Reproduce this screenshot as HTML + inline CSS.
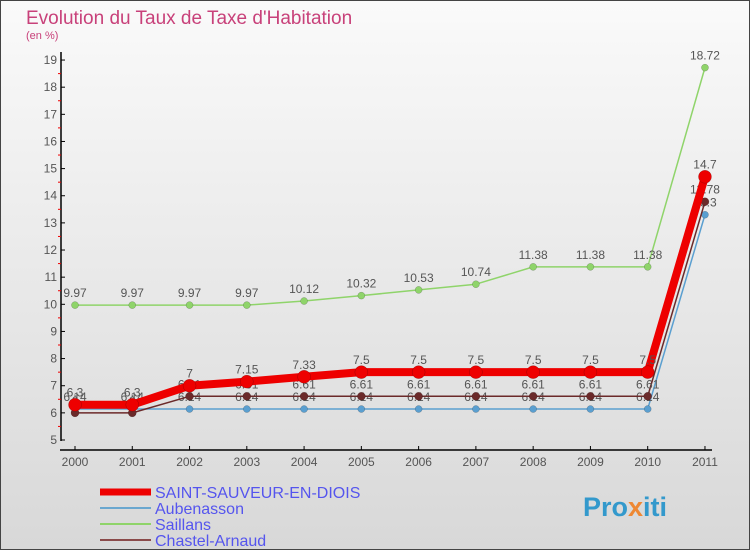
<!DOCTYPE html>
<html><head><meta charset="utf-8"><style>
body{margin:0}
#c{width:750px;height:550px;position:relative;font-family:"Liberation Sans","DejaVu Sans",sans-serif;}
</style></head><body>
<div id="c">
<svg id="s" width="750" height="550" xmlns="http://www.w3.org/2000/svg">
<defs><linearGradient id="bg" x1="0" y1="0" x2="0" y2="1"><stop offset="0" stop-color="#fafafa"/><stop offset="1" stop-color="#d8d8d8"/></linearGradient></defs>
<rect x="0.5" y="0.5" width="749" height="549" fill="url(#bg)" stroke="#444"/>
<text x="26" y="24" font-size="19" fill="#c8417a">Evolution du Taux de Taxe d'Habitation</text>
<text x="26" y="39" font-size="11" fill="#c8417a">(en %)</text>
<g id="axes"></g><g id="series"></g>
<text x="583" y="516" font-size="27" font-weight="bold" fill="#3399cc">Pro<tspan fill="#ee8833">x</tspan>iti</text>
</svg></div>
<script>
const years=[2000,2001,2002,2003,2004,2005,2006,2007,2008,2009,2010,2011];
const saint=[6.3,6.3,7,7.15,7.33,7.5,7.5,7.5,7.5,7.5,7.5,14.7];
const aub=[6.14,6.14,6.14,6.14,6.14,6.14,6.14,6.14,6.14,6.14,6.14,13.3];
const sail=[9.97,9.97,9.97,9.97,10.12,10.32,10.53,10.74,11.38,11.38,11.38,18.72];
const chas=[6,6,6.61,6.61,6.61,6.61,6.61,6.61,6.61,6.61,6.61,13.78];
const yTicks=[5,6,7,8,9,10,11,12,13,14,15,16,17,18,19];
const NS="http://www.w3.org/2000/svg";
const X=i=>75+i*57.27, Y=v=>440-(v-5)*27.14;
function mk(t,a,p){const e=document.createElementNS(NS,t);for(const k in a)e.setAttribute(k,a[k]);p.appendChild(e);return e;}
const ax=document.getElementById('axes'), sg=document.getElementById('series');
let l=mk('line',{x1:61,y1:52,x2:61,y2:441,stroke:'#000','stroke-width':1.5},ax);


l=mk('line',{x1:60,y1:450,x2:712,y2:450,stroke:'#000','stroke-width':1.5},ax);


yTicks.forEach(v=>{mk('line',{x1:61,y1:Y(v),x2:65,y2:Y(v),stroke:'#000'},ax);
 if(v<19)mk('line',{x1:58,y1:Y(v+0.5),x2:61,y2:Y(v+0.5),stroke:'#e00'},ax);
 const t=mk('text',{x:57,y:Y(v)+4,'font-size':12,fill:'#555','text-anchor':'end'},ax);t.textContent=v;
 
 });
years.forEach((y,i)=>{mk('line',{x1:X(i),y1:446,x2:X(i),y2:450,stroke:'#000'},ax);
 const t=mk('text',{x:X(i),y:466,'font-size':12,fill:'#555','text-anchor':'middle'},ax);t.textContent=y;
 
 });
function series(d,col,w,r,name,lab){
 const g=mk('g',{},sg);
 
 
 mk('polyline',{points:d.map((v,i)=>X(i)+','+Y(v)).join(' '),fill:'none',stroke:col,'stroke-width':w,'stroke-linejoin':'round'},g);
 d.forEach((v,i)=>{const c=mk('circle',{cx:X(i),cy:Y(v),r:r,fill:col,stroke:'rgba(0,0,0,0.3)','stroke-width':0.5},g);
  
  
  if(lab){const t=mk('text',{x:X(i),y:Y(v)-8,'font-size':12,fill:'#555','text-anchor':'middle'},g);t.textContent=v;}});
}
series(sail,'#8fd46a',1.5,3.5,'saillans-series',true);
series(aub,'#5a9fd0',1.5,3.5,'aubenasson-series',true);
series(chas,'#6b2a2a',1.5,4,'chastel-arnaud-series',true);
series(saint,'#ee0000',8,6.5,'saint-sauveur-series',true);
const leg=[['SAINT-SAUVEUR-EN-DIOIS','#ee0000',7],['Aubenasson','#6aa7cf',2],['Saillans','#8fd46a',2],['Chastel-Arnaud','#8a4a4a',2]];
leg.forEach((e,i)=>{const g=mk('g',{},sg);
 
 
 const y=492+i*16;
 mk('line',{x1:100,y1:y,x2:151,y2:y,stroke:e[1],'stroke-width':e[2]},g);
 const t=mk('text',{x:155,y:y+6,'font-size':16,fill:'#5555ee'},g);t.textContent=e[0];});
</script>
</body></html>
